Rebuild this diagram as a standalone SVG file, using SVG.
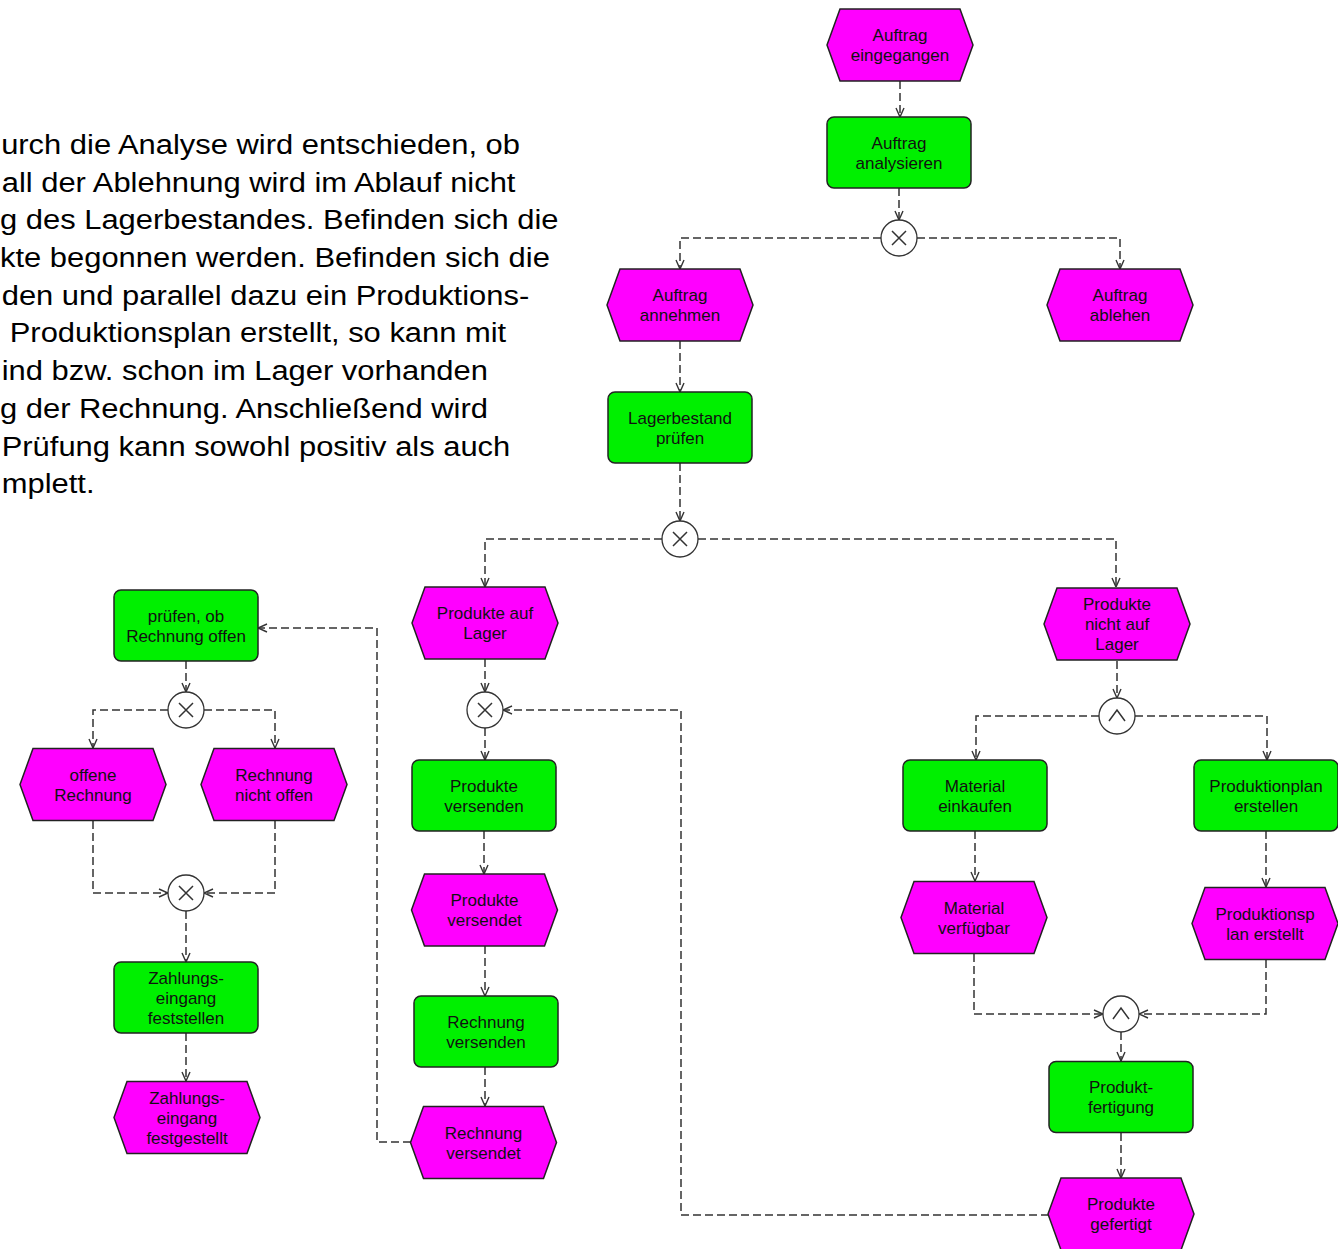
<svg xmlns="http://www.w3.org/2000/svg" xmlns:xlink="http://www.w3.org/1999/xlink" width="1338" height="1249" viewBox="0 0 1338 1249">
  <style>
    .ev { fill: #ff00ff; stroke: #222; stroke-width: 1.5; }
    .fn { fill: #00f000; stroke: #222; stroke-width: 1.5; }
    .gw { fill: #fff; stroke: #333; stroke-width: 1.3; }
    .sym { fill: none; stroke: #333; stroke-width: 1.5; }
    .t { font-family: "Liberation Sans", Arial, sans-serif; font-size: 17px; text-anchor: middle; fill: #111; }
    .para { font-family: "Liberation Sans", Arial, sans-serif; font-size: 27px; fill: #000; }
    .c { fill: none; stroke: #333; stroke-width: 1.5; stroke-dasharray: 8 4; marker-end: url(#arr); }
  </style>
  <defs>
    <polygon id="evShape" points="-73,0 -60,-36 60,-36 73,0 60,36 -60,36"/>
    <rect id="fnShape" x="-72" y="-35.5" width="144" height="71" rx="7"/>
    <g id="xor">
      <circle class="gw" r="18"/>
      <path class="sym" d="M-7,-7 L7,7 M7,-7 L-7,7"/>
    </g>
    <g id="and">
      <circle class="gw" r="18"/>
      <path class="sym" d="M-8,5 L0,-6 L8,5"/>
    </g>
    <marker id="arr" viewBox="0 0 10 10" refX="10" refY="5" markerWidth="10" markerHeight="10" markerUnits="userSpaceOnUse" orient="auto">
      <path d="M1,1 L10,5 L1,9" fill="none" stroke="#333" stroke-width="1.4"/>
    </marker>
  </defs>

  <rect width="1338" height="1249" fill="#fff"/>

  <!-- description paragraph, partly outside the left edge -->
  <g id="description" transform="scale(1.145,1)">
    <text class="para" x="1" y="154">urch die Analyse wird entschieden, ob</text>
    <text class="para" x="1.5" y="191.7">all der Ablehnung wird im Ablauf nicht</text>
    <text class="para" x="0" y="229.4">g des Lagerbestandes. Befinden sich die</text>
    <text class="para" x="0" y="267.1">kte begonnen werden. Befinden sich die</text>
    <text class="para" x="1.5" y="304.8">den und parallel dazu ein Produktions-</text>
    <text class="para" x="8.5" y="342.5">Produktionsplan erstellt, so kann mit</text>
    <text class="para" x="1.5" y="380.2">ind bzw. schon im Lager vorhanden</text>
    <text class="para" x="0" y="417.9">g der Rechnung. Anschließend wird</text>
    <text class="para" x="1.5" y="455.6">Prüfung kann sowohl positiv als auch</text>
    <text class="para" x="1.5" y="493.3">mplett.</text>
  </g>

  <!-- control flow -->
  <g id="connectors">
    <path class="c" d="M900,81 V117"/>
    <path class="c" d="M899,188 V220"/>
    <path class="c" d="M881,238 H680 V269"/>
    <path class="c" d="M917,238 H1120 V269"/>
    <path class="c" d="M680,341 V392"/>
    <path class="c" d="M680,463 V521"/>
    <path class="c" d="M662,539 H485 V587"/>
    <path class="c" d="M698,539 H1116 V587"/>
    <path class="c" d="M485,659 V692"/>
    <path class="c" d="M485,728 V760"/>
    <path class="c" d="M484,831 V874"/>
    <path class="c" d="M485,946 V996"/>
    <path class="c" d="M485,1067 V1106"/>
    <path class="c" d="M411,1142 H377 V628 H258"/>
    <path class="c" d="M1049,1215 H681 V710 H503"/>
    <path class="c" d="M1117,661 V698"/>
    <path class="c" d="M1099,716 H976 V760"/>
    <path class="c" d="M1135,716 H1267 V760"/>
    <path class="c" d="M975,831 V881"/>
    <path class="c" d="M1266,831 V887"/>
    <path class="c" d="M974,954 V1014 H1103"/>
    <path class="c" d="M1266,960 V1014 H1139"/>
    <path class="c" d="M1121,1032 V1061"/>
    <path class="c" d="M1121,1133 V1178"/>
    <path class="c" d="M186,661 V692"/>
    <path class="c" d="M168,710 H93 V748"/>
    <path class="c" d="M204,710 H275 V748"/>
    <path class="c" d="M93,821 V893 H168"/>
    <path class="c" d="M275,821 V893 H204"/>
    <path class="c" d="M186,911 V962"/>
    <path class="c" d="M186,1033 V1081"/>
  </g>

  <!-- events and functions -->
  <g id="ev-auftrag-eingegangen" transform="translate(900,45)">
    <use href="#evShape" class="ev"/>
    <text class="t" y="-4">Auftrag</text><text class="t" y="16">eingegangen</text>
  </g>
  <g id="fn-auftrag-analysieren" transform="translate(899,152.5)">
    <use href="#fnShape" class="fn"/>
    <text class="t" y="-4">Auftrag</text><text class="t" y="16">analysieren</text>
  </g>
  <g id="xor-analyse" transform="translate(899,238)"><use href="#xor"/></g>
  <g id="ev-auftrag-annehmen" transform="translate(680,305)">
    <use href="#evShape" class="ev"/>
    <text class="t" y="-4">Auftrag</text><text class="t" y="16">annehmen</text>
  </g>
  <g id="ev-auftrag-ablehen" transform="translate(1120,305)">
    <use href="#evShape" class="ev"/>
    <text class="t" y="-4">Auftrag</text><text class="t" y="16">ablehen</text>
  </g>
  <g id="fn-lagerbestand" transform="translate(680,427.5)">
    <use href="#fnShape" class="fn"/>
    <text class="t" y="-4">Lagerbestand</text><text class="t" y="16">prüfen</text>
  </g>
  <g id="xor-lager" transform="translate(680,539)"><use href="#xor"/></g>
  <g id="ev-produkte-auf-lager" transform="translate(485,623)">
    <use href="#evShape" class="ev"/>
    <text class="t" y="-4">Produkte auf</text><text class="t" y="16">Lager</text>
  </g>
  <g id="ev-produkte-nicht-auf-lager" transform="translate(1117,624)">
    <use href="#evShape" class="ev"/>
    <text class="t" y="-14">Produkte</text><text class="t" y="6">nicht auf</text><text class="t" y="26">Lager</text>
  </g>
  <g id="and-split" transform="translate(1117,716)"><use href="#and"/></g>
  <g id="fn-material-einkaufen" transform="translate(975,795.5)">
    <use href="#fnShape" class="fn"/>
    <text class="t" y="-4">Material</text><text class="t" y="16">einkaufen</text>
  </g>
  <g id="fn-produktionplan-erstellen" transform="translate(1266,795.5)">
    <use href="#fnShape" class="fn"/>
    <text class="t" y="-4">Produktionplan</text><text class="t" y="16">erstellen</text>
  </g>
  <g id="ev-material-verfuegbar" transform="translate(974,917.5)">
    <use href="#evShape" class="ev"/>
    <text class="t" y="-4">Material</text><text class="t" y="16">verfügbar</text>
  </g>
  <g id="ev-produktionsplan-erstellt" transform="translate(1265,923.5)">
    <use href="#evShape" class="ev"/>
    <text class="t" y="-4">Produktionsp</text><text class="t" y="16">lan erstellt</text>
  </g>
  <g id="and-join" transform="translate(1121,1014)"><use href="#and"/></g>
  <g id="fn-produktfertigung" transform="translate(1121,1097)">
    <use href="#fnShape" class="fn"/>
    <text class="t" y="-4">Produkt-</text><text class="t" y="16">fertigung</text>
  </g>
  <g id="ev-produkte-gefertigt" transform="translate(1121,1214)">
    <use href="#evShape" class="ev"/>
    <text class="t" y="-4">Produkte</text><text class="t" y="16">gefertigt</text>
  </g>
  <g id="xor-versand" transform="translate(485,710)"><use href="#xor"/></g>
  <g id="fn-produkte-versenden" transform="translate(484,795.5)">
    <use href="#fnShape" class="fn"/>
    <text class="t" y="-4">Produkte</text><text class="t" y="16">versenden</text>
  </g>
  <g id="ev-produkte-versendet" transform="translate(484.5,910)">
    <use href="#evShape" class="ev"/>
    <text class="t" y="-4">Produkte</text><text class="t" y="16">versendet</text>
  </g>
  <g id="fn-rechnung-versenden" transform="translate(486,1031.5)">
    <use href="#fnShape" class="fn"/>
    <text class="t" y="-4">Rechnung</text><text class="t" y="16">versenden</text>
  </g>
  <g id="ev-rechnung-versendet" transform="translate(483.5,1142.5)">
    <use href="#evShape" class="ev"/>
    <text class="t" y="-4">Rechnung</text><text class="t" y="16">versendet</text>
  </g>
  <g id="fn-pruefen-rechnung-offen" transform="translate(186,625.5)">
    <use href="#fnShape" class="fn"/>
    <text class="t" y="-4">prüfen, ob</text><text class="t" y="16">Rechnung offen</text>
  </g>
  <g id="xor-rechnung" transform="translate(186,710)"><use href="#xor"/></g>
  <g id="ev-offene-rechnung" transform="translate(93,784.5)">
    <use href="#evShape" class="ev"/>
    <text class="t" y="-4">offene</text><text class="t" y="16">Rechnung</text>
  </g>
  <g id="ev-rechnung-nicht-offen" transform="translate(274,784.5)">
    <use href="#evShape" class="ev"/>
    <text class="t" y="-4">Rechnung</text><text class="t" y="16">nicht offen</text>
  </g>
  <g id="xor-zahlung" transform="translate(186,893)"><use href="#xor"/></g>
  <g id="fn-zahlungseingang-feststellen" transform="translate(186,997.5)">
    <use href="#fnShape" class="fn"/>
    <text class="t" y="-14">Zahlungs-</text><text class="t" y="6">eingang</text><text class="t" y="26">feststellen</text>
  </g>
  <g id="ev-zahlungseingang-festgestellt" transform="translate(187,1117.5)">
    <use href="#evShape" class="ev"/>
    <text class="t" y="-14">Zahlungs-</text><text class="t" y="6">eingang</text><text class="t" y="26">festgestellt</text>
  </g>
</svg>
